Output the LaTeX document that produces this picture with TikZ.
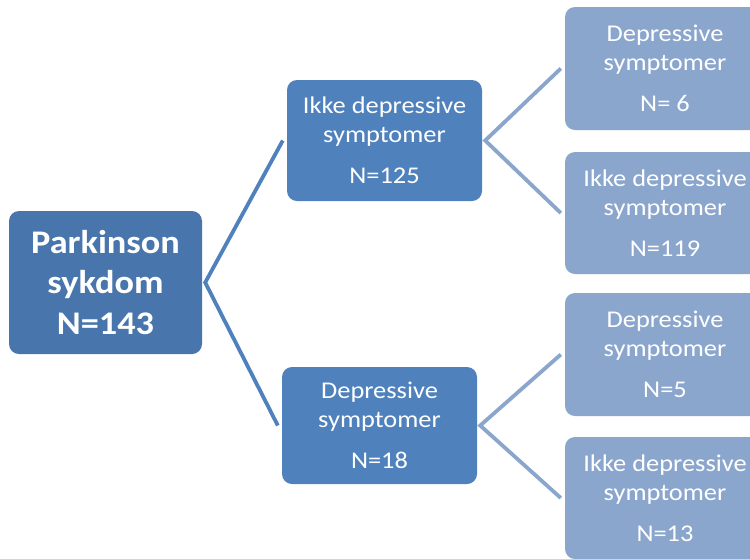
\documentclass[tikz,border=0pt]{standalone}
\usepackage{fontspec}
\setmainfont{Carlito}[FakeStretch=1.1]
\definecolor{rootblue}{RGB}{71,117,172}
\definecolor{midblue}{RGB}{79,129,189}
\definecolor{lightblue}{RGB}{139,166,205}
\tikzset{
  boxbase/.style={rounded corners=10pt, text=white, align=center, inner sep=0pt},
  rootbox/.style={boxbase, fill=rootblue, minimum width=193pt, minimum height=143pt,
    font=\fontsize{33}{40.5}\selectfont\bfseries},
  midbox/.style={boxbase, fill=midblue, minimum width=195pt,
    font=\fontsize{24}{29}\selectfont},
  rightbox/.style={boxbase, fill=lightblue, minimum width=200pt,
    font=\fontsize{24}{29}\selectfont},
  darkline/.style={draw=midblue, line width=3.8pt},
  lightline/.style={draw=lightblue, line width=3.8pt}
}
\begin{document}
\begin{tikzpicture}[x=1pt,y=-1pt]
\useasboundingbox (0,0) rectangle (750,558);
\clip (0,0) rectangle (750,558);
\fill[white] (0,0) rectangle (750,558);
\node[rootbox] (root) at (105.5,282.5) {Parkinson\\sykdom\\N=143};
\node[midbox, minimum height=121pt] (m1) at (384.5,140.5) {Ikke depressive\\symptomer\\[12pt]N=125};
\node[midbox, minimum height=117pt] (m2) at (379.5,425.5) {Depressive\\symptomer\\[12pt]N=18};
\node[rightbox, minimum height=123pt] (r1) at (665,68.5) {Depressive\\symptomer\\[12pt]N= 6};
\node[rightbox, minimum height=122pt] (r2) at (665,213) {Ikke depressive\\symptomer\\[12pt]N=119};
\node[rightbox, minimum height=123pt] (r3) at (665,354.5) {Depressive\\symptomer\\[12pt]N=5};
\node[rightbox, minimum height=122pt] (r4) at (665,498) {Ikke depressive\\symptomer\\[12pt]N=13};
\coordinate (rv) at ([xshift=3pt]root.east);
\coordinate (m1v) at ([xshift=3pt]m1.east);
\coordinate (m2v) at ([xshift=3pt]m2.east);
\draw[darkline] ([xshift=-4pt]m1.west) -- (rv) -- ([xshift=-4pt]m2.west);
\draw[lightline] ([xshift=-4pt]r1.west) -- (m1v) -- ([xshift=-4pt]r2.west);
\draw[lightline] ([xshift=-4pt]r3.west) -- (m2v) -- ([xshift=-4pt]r4.west);
\end{tikzpicture}
\end{document}
